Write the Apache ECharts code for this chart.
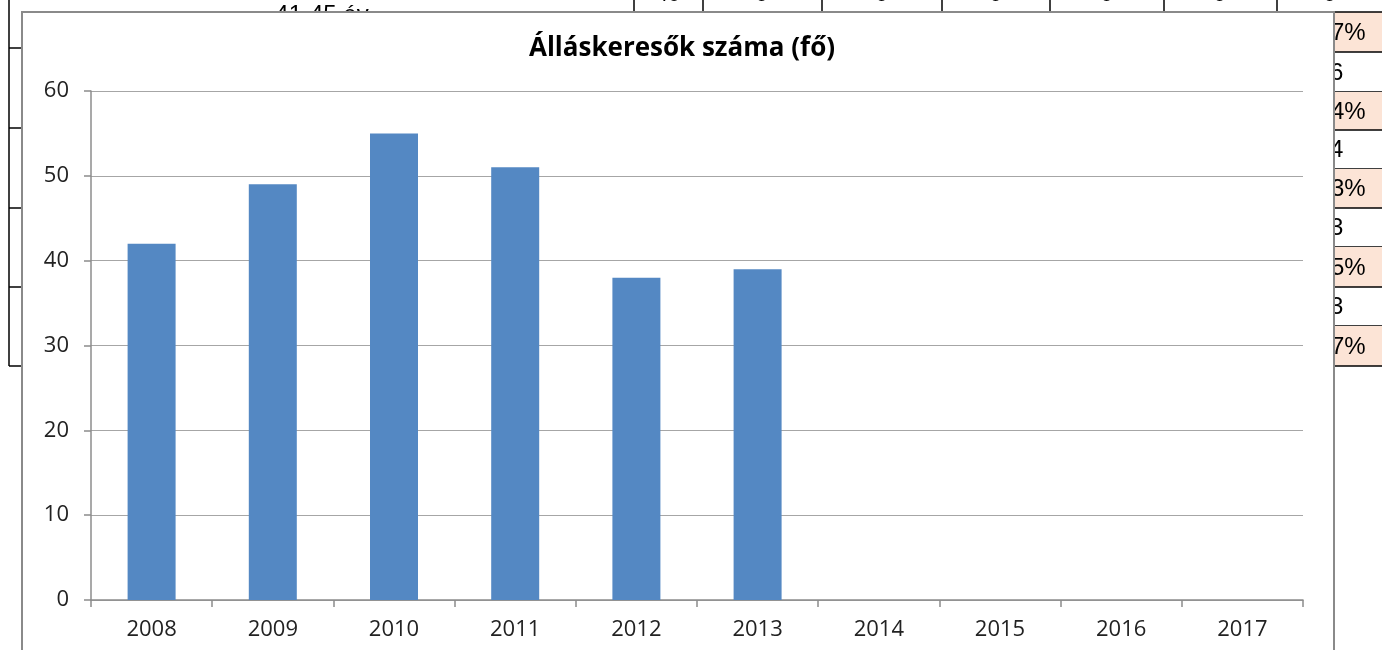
<!DOCTYPE html>
<html>
<head>
<meta charset="utf-8">
<script src="https://cdn.jsdelivr.net/npm/echarts@6/dist/echarts.min.js"></script>
<style>
  html, body { margin: 0; padding: 0; background: #fff; }
  #chart { width: 1382px; height: 650px; }
</style>
</head>
<body>
<div id="chart"></div>
<script>
const years = ["2008", "2009", "2010", "2011", "2012", "2013", "2014", "2015", "2016", "2017"];
const jobseekers = [42, 49, 55, 51, 38, 39, null, null, null, null];
const chartTitle = "Álláskeresők száma (fő)";

// spreadsheet peeking out behind the chart
const rightCellTexts = ["7%", "6", "4%", "4", "3%", "3", "5%", "3", "7%"];
const rowEdges = [12, 52, 92, 130, 169, 208, 247, 287, 326, 366];
const topColEdges = [634, 703, 822, 942, 1050, 1164, 1277];

const chart = echarts.init(document.getElementById("chart"), null, { renderer: "canvas" });

const bg = [];
// left column borders
bg.push({ type: "line", z: 0, shape: { x1: 9, y1: 0, x2: 9, y2: 366 }, style: { stroke: "#000", lineWidth: 1.5 } });
[48, 128, 208, 287, 366].forEach((y) => {
  bg.push({ type: "line", z: 0, shape: { x1: 9, y1: y, x2: 24, y2: y }, style: { stroke: "#000", lineWidth: 1.5 } });
});
// top row
topColEdges.forEach((x) => {
  bg.push({ type: "line", z: 0, shape: { x1: x, y1: 0, x2: x, y2: 14 }, style: { stroke: "#000", lineWidth: 1.5 } });
});
bg.push({ type: "text", z: 0, style: { x: 322, y: 15, text: "41-45 év", fill: "#000", font: "24px 'Liberation Sans'", align: "center", verticalAlign: "middle" } });
bg.push({ type: "text", z: 0, style: { x: 668, y: -5, text: "40", fill: "#000", font: "22px 'Liberation Sans'", align: "center", verticalAlign: "middle" } });
[762, 882, 996, 1107, 1220, 1330].forEach((x) => {
  bg.push({ type: "text", z: 0, style: { x: x, y: -5, text: "9", fill: "#000", font: "22px 'Liberation Sans'", align: "center", verticalAlign: "middle" } });
});
// right column cells
rightCellTexts.forEach((t, i) => {
  const y0 = rowEdges[i], y1 = rowEdges[i + 1];
  const peach = i % 2 === 0;
  if (peach) {
    bg.push({ type: "rect", z: 0, shape: { x: 1330, y: y0, width: 60, height: y1 - y0 }, style: { fill: "#fce4d6" } });
  }
  bg.push({ type: "line", z: 0, shape: { x1: 1330, y1: y1, x2: 1382, y2: y1 }, style: { stroke: "#000", lineWidth: 1.5 } });
  bg.push({ type: "text", z: 0, style: { x: peach ? 1331 : 1330, y: (y0 + y1) / 2 + 1, text: t, fill: "#000", font: "24px 'Liberation Sans'", align: "left", verticalAlign: "middle" } });
});
bg.push({ type: "line", z: 0, shape: { x1: 1330, y1: 12, x2: 1382, y2: 12 }, style: { stroke: "#000", lineWidth: 1.5 } });
// chart frame
bg.push({ type: "rect", z: 1, shape: { x: 22, y: 12, width: 1312, height: 700 }, style: { fill: "#fff", stroke: "#8a8a8a", lineWidth: 2 } });

const option = {
  backgroundColor: "#fff",
  animation: false,
  title: {
    text: chartTitle,
    left: 677,
    textAlign: "center",
    top: 31,
    z: 12,
    textStyle: { fontFamily: "Open Sans", fontWeight: "bold", fontSize: 26, color: "#000" },
  },
  graphic: { elements: bg },
  grid: { left: 91, right: 79, top: 91, bottom: 50, containLabel: false },
  xAxis: {
    type: "category",
    data: years,
    z: 10,
    axisLine: { lineStyle: { color: "#8c8c8c", width: 1.5 } },
    axisTick: { show: true, length: 7, lineStyle: { color: "#8c8c8c", width: 1.5 } },
    axisLabel: { color: "#222", fontFamily: "Open Sans", fontSize: 22, margin: 19 },
  },
  yAxis: {
    type: "value",
    min: 0,
    max: 60,
    interval: 10,
    z: 10,
    axisLine: { show: true, lineStyle: { color: "#8c8c8c", width: 1.5 } },
    axisTick: { show: true, length: 7, lineStyle: { color: "#8c8c8c", width: 1.5 } },
    axisLabel: { color: "#222", fontFamily: "Open Sans", fontSize: 22, margin: 22 },
    splitLine: { lineStyle: { color: "#a6a6a6", width: 1.2 } },
  },
  series: [
    {
      name: chartTitle,
      type: "bar",
      z: 12,
      data: jobseekers,
      barWidth: 48,
      itemStyle: { color: "#5488c3" },
    },
  ],
};

chart.setOption(option);
</script>
</body>
</html>
